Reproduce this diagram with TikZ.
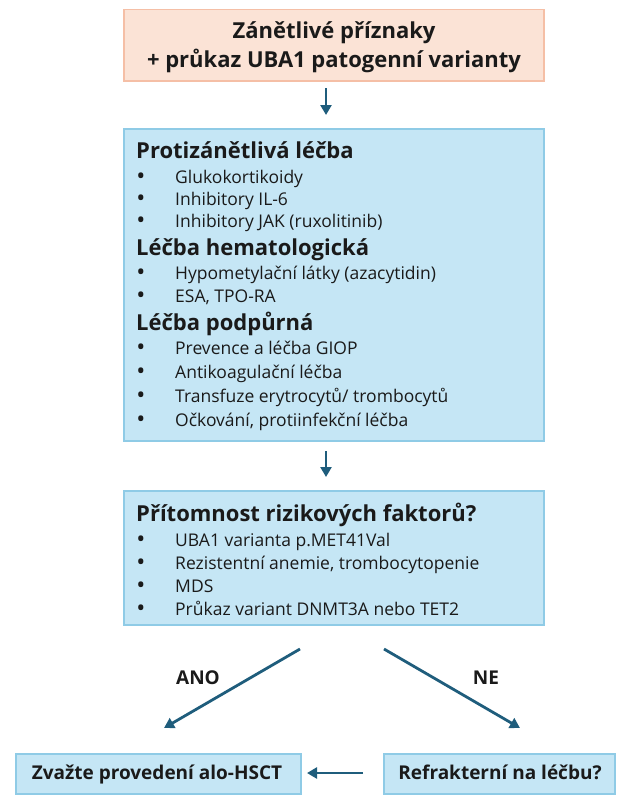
\documentclass[tikz,border=0pt]{standalone}
\usepackage{fontspec}
\setmainfont{Open Sans}
\usetikzlibrary{arrows.meta}
\definecolor{peachfill}{HTML}{FBE3D6}
\definecolor{peachline}{HTML}{F5BFA6}
\definecolor{bluefill}{HTML}{C5E6F5}
\definecolor{blueline}{HTML}{8FCBE6}
\definecolor{arrowc}{HTML}{1F5D7C}
\definecolor{txt}{HTML}{1A1A1A}
\tikzset{
  every node/.style={text=txt},
  pbox/.style={draw=peachline, fill=peachfill, line width=1.5pt},
  bbox/.style={draw=blueline, fill=bluefill, line width=1.5pt},
  head/.style={anchor=base west, inner sep=0pt, font=\fontsize{22}{26}\selectfont\bfseries},
  item/.style={anchor=base west, inner sep=0pt, font=\fontsize{17.5}{21}\selectfont},
  bul/.style={anchor=base, inner sep=0pt, font=\fontsize{24}{26}\selectfont},
  flow/.style={draw=arrowc, line width=2.8pt, -{Triangle[length=10pt,width=11pt]}},
  lbl/.style={anchor=base, inner sep=0pt, font=\fontsize{19}{22}\selectfont\bfseries},
  toptxt/.style={anchor=base, inner sep=0pt, font=\fontsize{22}{26}\selectfont\bfseries},
}
\begin{document}
\begin{tikzpicture}[x=1pt,y=-1pt]
\useasboundingbox (0,0) rectangle (620,800);
% top box
\node[pbox, minimum width=420pt, minimum height=71pt, anchor=north west] (b1) at (123,9) {};
\node[toptxt] (t1a) at (334,38) {Zánětlivé příznaky};
\node[toptxt] (t1b) at (334,67.5) {+ průkaz UBA1 patogenní varianty};
% box 2
\node[bbox, minimum width=420pt, minimum height=312pt, anchor=north west] (b2) at (123,128) {};
\node[head] (h1) at (136,158.5) {Protizánětlivá léčba};
\node[bul] (u1) at (141,184) {•}; \node[item] (i1) at (175,183) {Glukokortikoidy};
\node[bul] (u2) at (141,206) {•}; \node[item] (i2) at (175,205) {Inhibitory IL-6};
\node[bul] (u3) at (141,228) {•}; \node[item] (i3) at (175,227) {Inhibitory JAK (ruxolitinib)};
\node[head] (h2) at (136,255.5) {Léčba hematologická};
\node[bul] (u4) at (141,280) {•}; \node[item] (i4) at (175,279) {Hypometylační látky (azacytidin)};
\node[bul] (u5) at (141,303) {•}; \node[item] (i5) at (175,302) {ESA, TPO-RA};
\node[head] (h3) at (136,330.5) {Léčba podpůrná};
\node[bul] (u6) at (141,355) {•}; \node[item] (i6) at (175,354) {Prevence a léčba GIOP};
\node[bul] (u7) at (141,379) {•}; \node[item] (i7) at (175,378) {Antikoagulační léčba};
\node[bul] (u8) at (141,403) {•}; \node[item] (i8) at (175,402) {Transfuze erytrocytů/ trombocytů};
\node[bul] (u9) at (141,427) {•}; \node[item] (i9) at (175,426) {Očkování, protiinfekční léčba};
% box 3
\node[bbox, minimum width=420pt, minimum height=134pt, anchor=north west] (b3) at (123,490) {};
\node[head] (h4) at (136,521.5) {Přítomnost rizikových faktorů?};
\node[bul] (u10) at (141,547) {•}; \node[item] (i10) at (175,546) {UBA1 varianta p.MET41Val};
\node[bul] (u11) at (141,570) {•}; \node[item] (i11) at (175,569) {Rezistentní anemie, trombocytopenie};
\node[bul] (u12) at (141,593) {•}; \node[item] (i12) at (175,592) {MDS};
\node[bul] (u13) at (141,616) {•}; \node[item] (i13) at (175,615) {Průkaz variant DNMT3A nebo TET2};
% bottom boxes
\node[bbox, minimum width=285pt, minimum height=40pt, anchor=north west] (b4) at (15,753) {};
\node[lbl] (t4) at (157,779.5) {Zvažte provedení alo-HSCT};
\node[bbox, minimum width=231pt, minimum height=40pt, anchor=north west] (b5) at (383,753) {};
\node[lbl] (t5) at (500,779.5) {Refrakterní na léčbu?};
% connector coordinates
\coordinate (a1s) at (326,88); \coordinate (a1e) at (326,115);
\coordinate (a2s) at (326,451); \coordinate (a2e) at (326,477);
\coordinate (a3s) at (300,649); \coordinate (a3e) at (164,728);
\coordinate (a4s) at (384,649); \coordinate (a4e) at (520,728);
\coordinate (a5s) at (363,773); \coordinate (a5e) at (307,773);
\draw[flow] (a1s) -- (a1e);
\draw[flow] (a2s) -- (a2e);
\draw[flow] (a3s) -- (a3e);
\draw[flow] (a4s) -- (a4e);
\draw[flow] (a5s) -- (a5e);
\node[lbl] (ano) at (198,684.5) {ANO};
\node[lbl] (ne) at (486,684.5) {NE};
\end{tikzpicture}
\end{document}
